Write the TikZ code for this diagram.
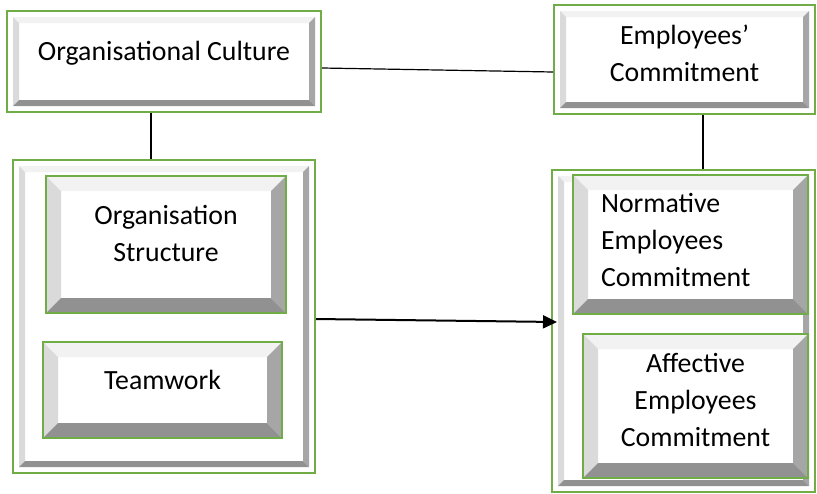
\documentclass[tikz,border=0pt]{standalone}
\usepackage{fontspec}
\setmainfont{Carlito}
\usetikzlibrary{positioning,calc,arrows.meta}

\definecolor{boxgreen}{RGB}{112,173,71}
\definecolor{bvtop}{RGB}{242,242,242}
\definecolor{bvleft}{RGB}{218,218,218}
\definecolor{bvright}{RGB}{166,166,166}
\definecolor{bvbottom}{RGB}{145,145,145}

% bevelled panel: #1 = gap to the green frame, #2 = bevel width
\tikzset{bevel/.style 2 args={path picture={
    \coordinate (bnw) at ([xshift=#1,yshift=-#1]path picture bounding box.north west);
    \coordinate (bne) at ([xshift=-#1,yshift=-#1]path picture bounding box.north east);
    \coordinate (bse) at ([xshift=-#1,yshift=#1]path picture bounding box.south east);
    \coordinate (bsw) at ([xshift=#1,yshift=#1]path picture bounding box.south west);
    \coordinate (inw) at ([xshift=#2,yshift=-#2]bnw);
    \coordinate (ine) at ([xshift=-#2,yshift=-#2]bne);
    \coordinate (ise) at ([xshift=-#2,yshift=#2]bse);
    \coordinate (isw) at ([xshift=#2,yshift=#2]bsw);
    \fill[bvtop] (bnw) -- (bne) -- (ine) -- (inw) -- cycle;
    \fill[bvleft] (bnw) -- (inw) -- (isw) -- (bsw) -- cycle;
    \fill[bvright] (bne) -- (bse) -- (ise) -- (ine) -- cycle;
    \fill[bvbottom] (bsw) -- (isw) -- (ise) -- (bse) -- cycle;
}}}

\tikzstyle{frame} = [rectangle, draw=boxgreen, line width=1pt, fill=white, inner sep=0pt]
\tikzstyle{outer} = [frame, bevel={3pt}{3pt}]
\tikzstyle{inner} = [frame, bevel={0.5pt}{7pt}]
\tikzstyle{txt} = [align=center, font=\fontsize{13.9}{18.5}\selectfont]
\tikzstyle{conn} = [draw, line width=0.6pt]

\begin{document}
\begin{tikzpicture}[x=0.5pt, y=-0.5pt, >={Triangle[length=7pt,width=6.5pt]}]
    \useasboundingbox (0,0) rectangle (817,493);

    % top row
    \node[outer, minimum width=157pt, minimum height=50.5pt] (culture) at (164,61.5) {};
    \node[txt] (cultureLbl) at ([yshift=4.25pt]culture.center) {Organisational Culture};
    \node[outer, minimum width=130.5pt, minimum height=54.5pt] (commit) at (684.5,59.5) {};
    \node[txt] (commitLbl) at ([yshift=3.25pt]commit.center) {Employees’\\Commitment};

    % left group
    \node[outer, minimum width=151pt, minimum height=156.5pt] (orgbox) at (164,316.5) {};
    \node[inner, minimum width=120pt, minimum height=68.5pt] (structure) at (166,244.5) {};
    \node[txt] (structureLbl) at ([yshift=5.5pt]structure.center) {Organisation\\Structure};
    \node[inner, minimum width=119.5pt, minimum height=48pt] (teamwork) at (162.5,390) {};
    \node[txt] (teamworkLbl) at ([yshift=5pt]teamwork.center) {Teamwork};

    % right group
    \node[outer, minimum width=131.5pt, minimum height=161pt] (commitbox) at (683.5,331) {};
    \node[inner, minimum width=117.5pt, minimum height=69.5pt] (normative) at (690.5,244.5) {};
    \node[txt, align=left, anchor=west] (normativeLbl) at ([xshift=11pt,yshift=2.25pt]normative.west) {Normative\\Employees\\Commitment};
    \node[inner, minimum width=112.5pt, minimum height=72pt] (affective) at (695.5,406) {};
    \node[txt] (affectiveLbl) at ([yshift=3pt]affective.center) {Affective\\Employees\\Commitment};

    % links
    \draw[conn] ([yshift=-3.25pt]culture.east) -- ([yshift=-6.25pt]commit.west);
    \draw[conn] ([xshift=-6.5pt]culture.south) -- ([xshift=-6.5pt]culture.south |- orgbox.north);
    \draw[conn] ([xshift=9.25pt]commit.south) -- ([xshift=9.25pt]commit.south |- commitbox.north);
    \draw[conn, ->, line width=1pt] ([yshift=-1.25pt]orgbox.east) -- ([xshift=3pt,yshift=4.5pt]commitbox.west);
\end{tikzpicture}
\end{document}
